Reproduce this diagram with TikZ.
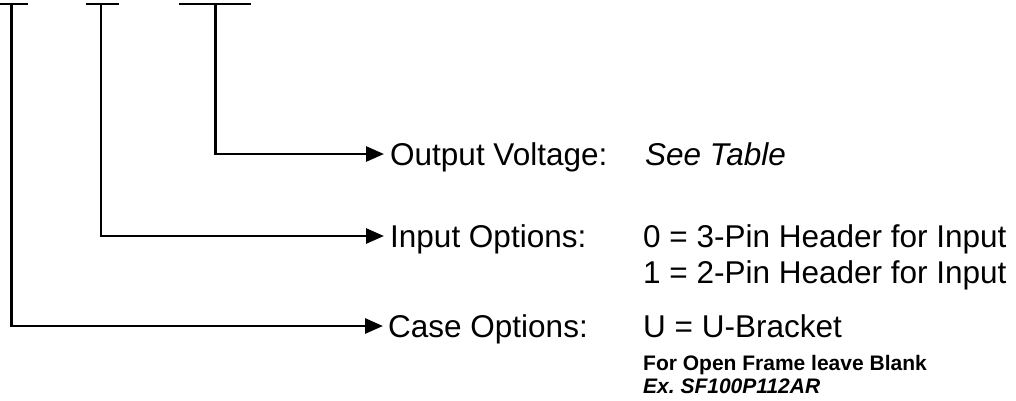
\documentclass[tikz,border=0pt]{standalone}
\usepackage{fontspec}
\setmainfont{Liberation Sans}
\usetikzlibrary{arrows.meta,calc}
\begin{document}
\begin{tikzpicture}[x=1pt,y=-1pt,
  bar/.style={line width=2.8pt},
  conn/.style={line width=2.8pt,-{Triangle[length=18pt,width=15pt]}},
  lab/.style={anchor=west,inner sep=0pt,text height=22.5pt,text depth=0pt,font=\fontsize{31.5}{36}\selectfont},
  val/.style={anchor=base west,inner sep=0pt,font=\fontsize{31.5}{36}\selectfont},
  small/.style={anchor=base west,inner sep=0pt,font=\fontsize{21}{24}\selectfont\bfseries}]
\useasboundingbox (0,0) rectangle (1016,400);
% T bars
\draw[bar] (0,4) -- (28,4);
\draw[bar] (86,4) -- (119,4);
\draw[bar] (179,4) -- (251,4);
\coordinate (t1) at (11.5,4);
\coordinate (t2) at (101,4);
\coordinate (t3) at (215.5,4);
% labels
\node[lab] (lout) at (390,154) {Output Voltage:};
\node[lab] (lin) at (390,236) {Input Options:};
\node[lab] (lcase) at (388,326) {Case Options:};
% values
\node[val] (vout) at (645,0 |- lout.base) {\itshape See Table};
\node[val] (vin0) at (643,0 |- lin.base) {0 = 3-Pin Header for Input};
\node[val] (vin1) at (643,283) {1 = 2-Pin Header for Input};
\node[val] (vcase) at (643,0 |- lcase.base) {U = U-Bracket};
\node[small] (note) at (643,370) {For Open Frame leave Blank};
\node[small] (ex) at (643,393) {\itshape Ex.\ SF100P112AR};
% connectors
\draw[conn] (t3) |- ([xshift=-6pt]lout.west);
\draw[conn] (t2) |- ([xshift=-6pt]lin.west);
\draw[conn] (t1) |- ([xshift=-5pt]lcase.west);
\end{tikzpicture}
\end{document}
